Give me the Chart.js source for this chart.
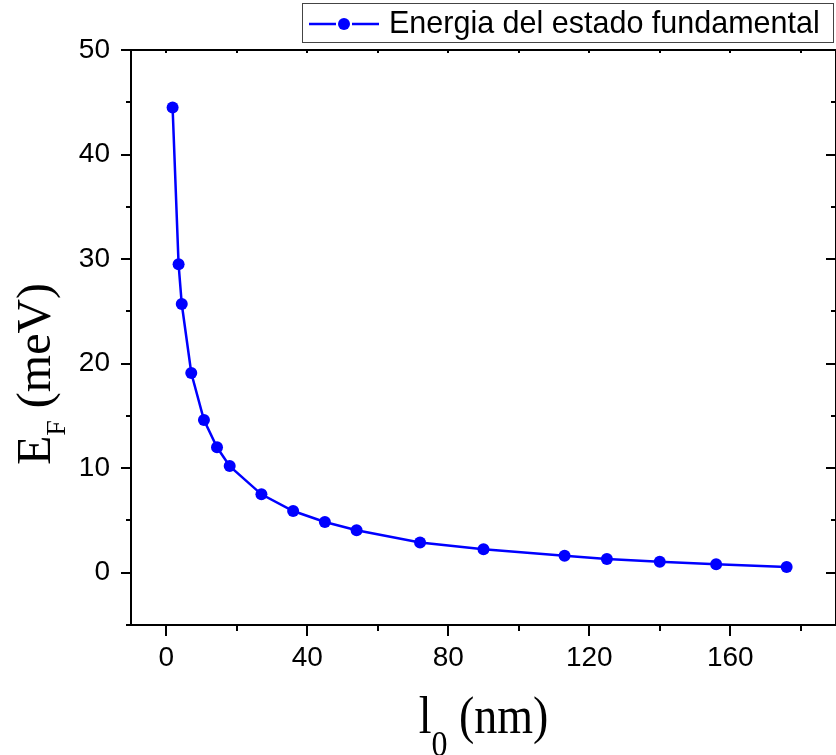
<!DOCTYPE html>
<html>
<head>
<meta charset="utf-8">
<script src="https://cdn.jsdelivr.net/npm/chart.js@4/dist/chart.umd.min.js"></script>
<style>
  body { margin: 0; background: #fff; }
  canvas { display: block; }
</style>
</head>
<body>
<canvas id="energyChart" width="836" height="755"></canvas>
<script>
// l0 (nm) and ground state energy (meV)
const lengths = [1.8, 3.5, 4.4, 7.1, 10.7, 14.4, 18, 27, 36, 45, 54, 72, 90, 113, 125, 140, 156, 176];
const energies = [44.5, 29.5, 25.7, 19.1, 14.6, 12.0, 10.2, 7.5, 5.9, 4.85, 4.06, 2.9, 2.24, 1.63, 1.31, 1.05, 0.8, 0.55];

const xTicks = [0, 40, 80, 120, 160];
const xMinorTicks = [20, 60, 100, 140, 180];
const yTicks = [0, 10, 20, 30, 40, 50];
const yMinorTicks = [-5, 5, 15, 25, 35, 45];

const seriesLabel = "Energia del estado fundamental";
const blue = "#0000ff";
const sansFont = "'Liberation Sans', Arial, sans-serif";
const serifFont = "'Liberation Serif', 'Times New Roman', serif";

// frame, ticks on all four sides, axis titles and legend
const decorations = {
  id: "decorations",
  afterDraw(chart) {
    const ctx = chart.ctx;
    const area = chart.chartArea;
    const xs = chart.scales.x;
    const ys = chart.scales.y;
    ctx.save();
    ctx.strokeStyle = "#000";
    ctx.lineWidth = 2;
    ctx.strokeRect(area.left, area.top, area.right - area.left, area.bottom - area.top);

    ctx.beginPath();
    xTicks.concat(xMinorTicks).forEach(function (v) {
      const len = xTicks.includes(v) ? 11 : 6;
      const px = Math.round(xs.getPixelForValue(v));
      ctx.moveTo(px, area.bottom);
      ctx.lineTo(px, area.bottom + len);
      ctx.moveTo(px, area.top);
      ctx.lineTo(px, area.top + 3);
    });
    yTicks.concat(yMinorTicks).forEach(function (v) {
      const major = yTicks.includes(v);
      const py = Math.round(ys.getPixelForValue(v));
      ctx.moveTo(area.left, py);
      ctx.lineTo(area.left - (major ? 10 : 5), py);
      ctx.moveTo(area.right, py);
      ctx.lineTo(area.right - (major ? 10 : 5), py);
    });
    ctx.stroke();

    // x title: l0 (nm)
    ctx.fillStyle = "#000";
    ctx.textBaseline = "alphabetic";
    ctx.textAlign = "left";
    const bigX = "46px " + serifFont;
    const subX = "32px " + serifFont;
    ctx.font = bigX;
    const wl = ctx.measureText("l").width;
    const wrest = ctx.measureText(" (nm)").width;
    ctx.font = subX;
    const w0 = ctx.measureText("0").width;
    const cx = (area.left + area.right) / 2;
    let sx = cx - (wl + w0 + wrest) / 2;
    ctx.save();
    ctx.translate(0, 733);
    ctx.scale(1, 1.15);
    ctx.font = bigX;
    ctx.fillText("l", sx, 0);
    ctx.font = subX;
    ctx.fillText("0", sx + wl, 20);
    ctx.font = bigX;
    ctx.fillText(" (nm)", sx + wl + w0, 0);
    ctx.restore();

    // y title: EF (meV)
    const bigY = "48px " + serifFont;
    const subY = "28px " + serifFont;
    ctx.font = bigY;
    const wE = ctx.measureText("E").width;
    const wUnit = ctx.measureText(" (meV)").width;
    ctx.font = subY;
    const wF = ctx.measureText("F").width;
    const total = wE + wF + wUnit;
    ctx.save();
    ctx.translate(50, 374);
    ctx.rotate(-Math.PI / 2);
    let ty = -total / 2;
    ctx.font = bigY;
    ctx.fillText("E", ty, 0);
    ctx.font = subY;
    ctx.fillText("F", ty + wE, 15);
    ctx.font = bigY;
    ctx.fillText(" (meV)", ty + wE + wF, 0);
    ctx.restore();

    // legend
    ctx.lineWidth = 1;
    ctx.strokeStyle = "#444";
    ctx.fillStyle = "#fff";
    ctx.fillRect(302, 3, 531, 39);
    ctx.strokeRect(302.5, 3.5, 531, 39);
    ctx.strokeStyle = blue;
    ctx.lineWidth = 2.5;
    ctx.beginPath();
    ctx.moveTo(309, 24);
    ctx.lineTo(336, 24);
    ctx.moveTo(352, 24);
    ctx.lineTo(379, 24);
    ctx.stroke();
    ctx.fillStyle = blue;
    ctx.beginPath();
    ctx.arc(344, 24, 6, 0, Math.PI * 2);
    ctx.fill();
    ctx.fillStyle = "#000";
    ctx.font = "30.5px " + sansFont;
    ctx.fillText(seriesLabel, 389, 33);
    ctx.restore();
  },
};

new Chart(document.getElementById("energyChart"), {
  type: "line",
  data: {
    datasets: [
      {
        label: seriesLabel,
        data: lengths.map((l, i) => ({ x: l, y: energies[i] })),
        borderColor: blue,
        backgroundColor: blue,
        borderWidth: 2.5,
        pointRadius: 6,
        pointHoverRadius: 6,
        pointBorderWidth: 0,
        tension: 0,
      },
    ],
  },
  options: {
    responsive: false,
    animation: false,
    layout: { autoPadding: false, padding: { top: 50, right: -1, left: 0, bottom: 0 } },
    plugins: { legend: { display: false }, tooltip: { enabled: false } },
    scales: {
      x: {
        type: "linear",
        min: -10,
        max: 190,
        grid: { display: false, drawTicks: false },
        border: { display: false },
        afterBuildTicks: (scale) => {
          scale.ticks = xTicks.map((v) => ({ value: v }));
        },
        afterFit: (scale) => {
          scale.height = 130;
          scale.paddingLeft = 0;
          scale.paddingRight = 0;
        },
        ticks: {
          color: "#000",
          padding: 16,
          maxRotation: 0,
          font: { family: sansFont, size: 28 },
        },
      },
      y: {
        type: "linear",
        min: -5,
        max: 50,
        grid: { display: false, drawTicks: false },
        border: { display: false },
        afterBuildTicks: (scale) => {
          scale.ticks = yTicks.map((v) => ({ value: v }));
        },
        afterFit: (scale) => {
          scale.width = 131;
          scale.paddingTop = 0;
          scale.paddingBottom = 0;
        },
        ticks: {
          color: "#000",
          padding: 21,
          font: { family: sansFont, size: 28 },
        },
      },
    },
  },
  plugins: [decorations],
});
</script>
</body>
</html>
